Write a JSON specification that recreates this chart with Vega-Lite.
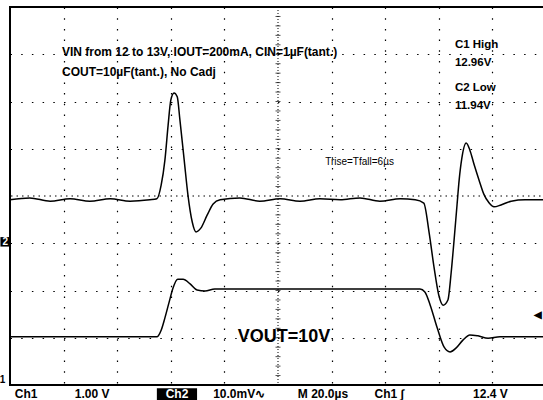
{
  "$schema": "https://vega.github.io/schema/vega-lite/v6.json",
  "width": 536,
  "height": 378,
  "autosize": {"type": "none"},
  "padding": {"left": 10, "top": 7, "right": 0, "bottom": 15},
  "background": "white",
  "config": {"view": {"stroke": "black", "strokeWidth": 2}},
  "datasets": {
    "traces": [
      {"s": "ch2", "t": 0, "v": -0.08}, {"s": "ch2", "t": 0.37, "v": -0.04}, {"s": "ch2", "t": 0.75, "v": -0.11},
      {"s": "ch2", "t": 1.12, "v": -0.06}, {"s": "ch2", "t": 1.49, "v": -0.11}, {"s": "ch2", "t": 1.87, "v": -0.06},
      {"s": "ch2", "t": 2.24, "v": -0.11}, {"s": "ch2", "t": 2.61, "v": -0.08}, {"s": "ch2", "t": 2.74, "v": -0.06},
      {"s": "ch2", "t": 2.82, "v": 0.23}, {"s": "ch2", "t": 2.89, "v": 0.76}, {"s": "ch2", "t": 2.95, "v": 1.5},
      {"s": "ch2", "t": 3.0, "v": 2.03}, {"s": "ch2", "t": 3.06, "v": 2.18}, {"s": "ch2", "t": 3.12, "v": 2.1},
      {"s": "ch2", "t": 3.17, "v": 1.61}, {"s": "ch2", "t": 3.25, "v": 0.76}, {"s": "ch2", "t": 3.32, "v": 0.02},
      {"s": "ch2", "t": 3.4, "v": -0.55}, {"s": "ch2", "t": 3.47, "v": -0.76}, {"s": "ch2", "t": 3.56, "v": -0.68},
      {"s": "ch2", "t": 3.68, "v": -0.4}, {"s": "ch2", "t": 3.79, "v": -0.17}, {"s": "ch2", "t": 3.92, "v": -0.08},
      {"s": "ch2", "t": 4.29, "v": -0.04}, {"s": "ch2", "t": 4.66, "v": -0.11}, {"s": "ch2", "t": 5.04, "v": -0.06},
      {"s": "ch2", "t": 5.41, "v": -0.11}, {"s": "ch2", "t": 5.78, "v": -0.06}, {"s": "ch2", "t": 6.16, "v": -0.08},
      {"s": "ch2", "t": 6.53, "v": -0.04}, {"s": "ch2", "t": 6.9, "v": -0.11}, {"s": "ch2", "t": 7.28, "v": -0.06},
      {"s": "ch2", "t": 7.56, "v": -0.08}, {"s": "ch2", "t": 7.72, "v": -0.15}, {"s": "ch2", "t": 7.82, "v": -0.78},
      {"s": "ch2", "t": 7.91, "v": -1.5}, {"s": "ch2", "t": 8.0, "v": -2.1}, {"s": "ch2", "t": 8.08, "v": -2.31},
      {"s": "ch2", "t": 8.17, "v": -2.2}, {"s": "ch2", "t": 8.23, "v": -1.63}, {"s": "ch2", "t": 8.28, "v": -1.0},
      {"s": "ch2", "t": 8.34, "v": -0.19}, {"s": "ch2", "t": 8.38, "v": 0.34}, {"s": "ch2", "t": 8.43, "v": 0.8},
      {"s": "ch2", "t": 8.51, "v": 1.12}, {"s": "ch2", "t": 8.58, "v": 0.97}, {"s": "ch2", "t": 8.66, "v": 0.66},
      {"s": "ch2", "t": 8.75, "v": 0.34}, {"s": "ch2", "t": 8.84, "v": 0.04}, {"s": "ch2", "t": 8.94, "v": -0.15},
      {"s": "ch2", "t": 9.03, "v": -0.23}, {"s": "ch2", "t": 9.16, "v": -0.19}, {"s": "ch2", "t": 9.35, "v": -0.11},
      {"s": "ch2", "t": 9.61, "v": -0.08}, {"s": "ch2", "t": 10, "v": -0.08},
      {"s": "ch1", "t": 0, "v": -2.98}, {"s": "ch1", "t": 2.74, "v": -2.98}, {"s": "ch1", "t": 2.82, "v": -2.84},
      {"s": "ch1", "t": 2.89, "v": -2.58}, {"s": "ch1", "t": 2.97, "v": -2.24}, {"s": "ch1", "t": 3.04, "v": -1.95},
      {"s": "ch1", "t": 3.13, "v": -1.76}, {"s": "ch1", "t": 3.23, "v": -1.76}, {"s": "ch1", "t": 3.36, "v": -1.86},
      {"s": "ch1", "t": 3.49, "v": -1.99}, {"s": "ch1", "t": 3.64, "v": -2.01}, {"s": "ch1", "t": 3.82, "v": -1.97},
      {"s": "ch1", "t": 7.65, "v": -1.97}, {"s": "ch1", "t": 7.74, "v": -2.03}, {"s": "ch1", "t": 7.84, "v": -2.31},
      {"s": "ch1", "t": 7.97, "v": -2.79}, {"s": "ch1", "t": 8.1, "v": -3.2}, {"s": "ch1", "t": 8.21, "v": -3.3},
      {"s": "ch1", "t": 8.32, "v": -3.22}, {"s": "ch1", "t": 8.45, "v": -3.05}, {"s": "ch1", "t": 8.58, "v": -2.94},
      {"s": "ch1", "t": 8.73, "v": -2.96}, {"s": "ch1", "t": 8.92, "v": -3.01}, {"s": "ch1", "t": 9.14, "v": -2.98},
      {"s": "ch1", "t": 10, "v": -2.98}
    ],
    "ticks": [
      {"t": 5, "v": -3.8}, {"t": 5, "v": -3.6}, {"t": 5, "v": -3.4}, {"t": 5, "v": -3.2}, {"t": 5, "v": -3.0},
      {"t": 5, "v": -2.8}, {"t": 5, "v": -2.6}, {"t": 5, "v": -2.4}, {"t": 5, "v": -2.2}, {"t": 5, "v": -2.0},
      {"t": 5, "v": -1.8}, {"t": 5, "v": -1.6}, {"t": 5, "v": -1.4}, {"t": 5, "v": -1.2}, {"t": 5, "v": -1.0},
      {"t": 5, "v": -0.8}, {"t": 5, "v": -0.6}, {"t": 5, "v": -0.4}, {"t": 5, "v": -0.2}, {"t": 5, "v": 0},
      {"t": 5, "v": 0.2}, {"t": 5, "v": 0.4}, {"t": 5, "v": 0.6}, {"t": 5, "v": 0.8}, {"t": 5, "v": 1.0},
      {"t": 5, "v": 1.2}, {"t": 5, "v": 1.4}, {"t": 5, "v": 1.6}, {"t": 5, "v": 1.8}, {"t": 5, "v": 2.0},
      {"t": 5, "v": 2.2}, {"t": 5, "v": 2.4}, {"t": 5, "v": 2.6}, {"t": 5, "v": 2.8}, {"t": 5, "v": 3.0},
      {"t": 5, "v": 3.2}, {"t": 5, "v": 3.4}, {"t": 5, "v": 3.6}, {"t": 5, "v": 3.8}
    ],
    "labels": [
      {"t": 0.97, "v": 3.05, "txt": "VIN from 12 to 13V, IOUT=200mA, CIN=1µF(tant.)"},
      {"t": 0.97, "v": 2.63, "txt": "COUT=10µF(tant.), No Cadj"}
    ],
    "side": [
      {"t": 8.3, "v": 3.2, "txt": "C1 High"},
      {"t": 8.3, "v": 2.81, "txt": "12.96V"},
      {"t": 8.3, "v": 2.29, "txt": "C2 Low"},
      {"t": 8.3, "v": 1.9, "txt": "11.94V"}
    ],
    "bottom": [
      {"t": 0.09, "txt": "Ch1"},
      {"t": 1.21, "txt": "1.00 V"},
      {"t": 3.79, "txt": "10.0mV∿"},
      {"t": 5.37, "txt": "M 20.0µs"},
      {"t": 6.8, "txt": "Ch1  ∫"},
      {"t": 8.64, "txt": "12.4 V"}
    ]
  },
  "layer": [
    {
      "data": {"values": [{"t": 5}]},
      "mark": {"type": "rule", "color": "black", "strokeDash": [1, 2], "strokeWidth": 1},
      "encoding": {
        "x": {"field": "t", "type": "quantitative", "scale": {"domain": [0, 10], "nice": false},
          "axis": {"values": [1, 2, 3, 4, 6, 7, 8, 9], "grid": true, "gridColor": "black", "gridDash": [1.5, 9.2], "gridOpacity": 1, "gridWidth": 1.2, "labels": false, "ticks": false, "domain": false, "title": null}}
      }
    },
    {
      "data": {"values": [{"v": 0}]},
      "mark": {"type": "rule", "color": "black", "strokeDash": [1.5, 4], "strokeWidth": 1},
      "encoding": {
        "y": {"field": "v", "type": "quantitative", "scale": {"domain": [-4, 4], "nice": false},
          "axis": {"values": [-3, -2, -1, 1, 2, 3], "grid": true, "gridColor": "black", "gridDash": [1.5, 9.2], "gridOpacity": 1, "gridWidth": 1.2, "labels": false, "ticks": false, "domain": false, "title": null}}
      }
    },
    {
      "data": {"name": "ticks"},
      "mark": {"type": "tick", "orient": "horizontal", "color": "black", "size": 5, "thickness": 1},
      "encoding": {
        "x": {"field": "t", "type": "quantitative"},
        "y": {"field": "v", "type": "quantitative"}
      }
    },
    {
      "data": {"name": "traces"},
      "mark": {"type": "line", "color": "black", "strokeWidth": 1.5, "interpolate": "monotone"},
      "encoding": {
        "x": {"field": "t", "type": "quantitative"},
        "y": {"field": "v", "type": "quantitative"},
        "detail": {"field": "s"}
      }
    },
    {
      "data": {"name": "labels"},
      "mark": {"type": "text", "align": "left", "baseline": "middle", "font": "Liberation Sans", "fontWeight": "bold", "fontSize": 12, "color": "black"},
      "encoding": {
        "x": {"field": "t", "type": "quantitative"},
        "y": {"field": "v", "type": "quantitative"},
        "text": {"field": "txt"}
      }
    },
    {
      "data": {"name": "side"},
      "mark": {"type": "text", "align": "left", "baseline": "middle", "font": "Liberation Sans", "fontWeight": "bold", "fontSize": 11.5, "color": "black"},
      "encoding": {
        "x": {"field": "t", "type": "quantitative"},
        "y": {"field": "v", "type": "quantitative"},
        "text": {"field": "txt"}
      }
    },
    {
      "data": {"values": [{"t": 5.88, "v": 0.72, "txt": "Trise=Tfall=6µs"}]},
      "mark": {"type": "text", "align": "left", "baseline": "middle", "font": "Liberation Sans", "fontSize": 10, "color": "black"},
      "encoding": {
        "x": {"field": "t", "type": "quantitative"},
        "y": {"field": "v", "type": "quantitative"},
        "text": {"field": "txt"}
      }
    },
    {
      "data": {"values": [{"t": 4.25, "v": -2.98, "txt": "VOUT=10V"}]},
      "mark": {"type": "text", "align": "left", "baseline": "middle", "font": "Liberation Sans", "fontWeight": "bold", "fontSize": 18, "color": "black"},
      "encoding": {
        "x": {"field": "t", "type": "quantitative"},
        "y": {"field": "v", "type": "quantitative"},
        "text": {"field": "txt"}
      }
    },
    {
      "data": {"values": [{"t": 2.74, "t2": 3.49, "v": -4.07, "v2": -4.45}]},
      "mark": {"type": "rect", "color": "black", "clip": false},
      "encoding": {
        "x": {"field": "t", "type": "quantitative"},
        "x2": {"field": "t2"},
        "y": {"field": "v", "type": "quantitative"},
        "y2": {"field": "v2"}
      }
    },
    {
      "data": {"name": "bottom"},
      "mark": {"type": "text", "align": "left", "baseline": "alphabetic", "font": "Liberation Sans", "fontWeight": "bold", "fontSize": 12, "color": "black", "clip": false},
      "encoding": {
        "x": {"field": "t", "type": "quantitative"},
        "y": {"datum": -4.27, "type": "quantitative"},
        "text": {"field": "txt"}
      }
    },
    {
      "data": {"values": [{"t": 3.115, "txt": "Ch2"}]},
      "mark": {"type": "text", "align": "center", "baseline": "alphabetic", "font": "Liberation Sans", "fontWeight": "bold", "fontSize": 12, "color": "white", "clip": false},
      "encoding": {
        "x": {"field": "t", "type": "quantitative"},
        "y": {"datum": -4.27, "type": "quantitative"},
        "text": {"field": "txt"}
      }
    },
    {
      "data": {"values": [{"t": -0.09, "v": -0.97}]},
      "mark": {"type": "square", "color": "black", "size": 90, "opacity": 1, "clip": false},
      "encoding": {
        "x": {"field": "t", "type": "quantitative"},
        "y": {"field": "v", "type": "quantitative"}
      }
    },
    {
      "data": {"values": [{"t": -0.09, "v": -0.97, "txt": "2", "c": "w"}, {"t": -0.14, "v": -3.9, "txt": "1", "c": "b"}, {"t": 9.85, "v": -2.52, "txt": "◀", "c": "b"}]},
      "mark": {"type": "text", "align": "center", "baseline": "middle", "font": "Liberation Sans", "fontWeight": "bold", "fontSize": 10, "clip": false},
      "encoding": {
        "x": {"field": "t", "type": "quantitative"},
        "y": {"field": "v", "type": "quantitative"},
        "text": {"field": "txt"},
        "color": {"field": "c", "type": "nominal", "scale": {"domain": ["w", "b"], "range": ["white", "black"]}, "legend": null}
      }
    }
  ]
}
